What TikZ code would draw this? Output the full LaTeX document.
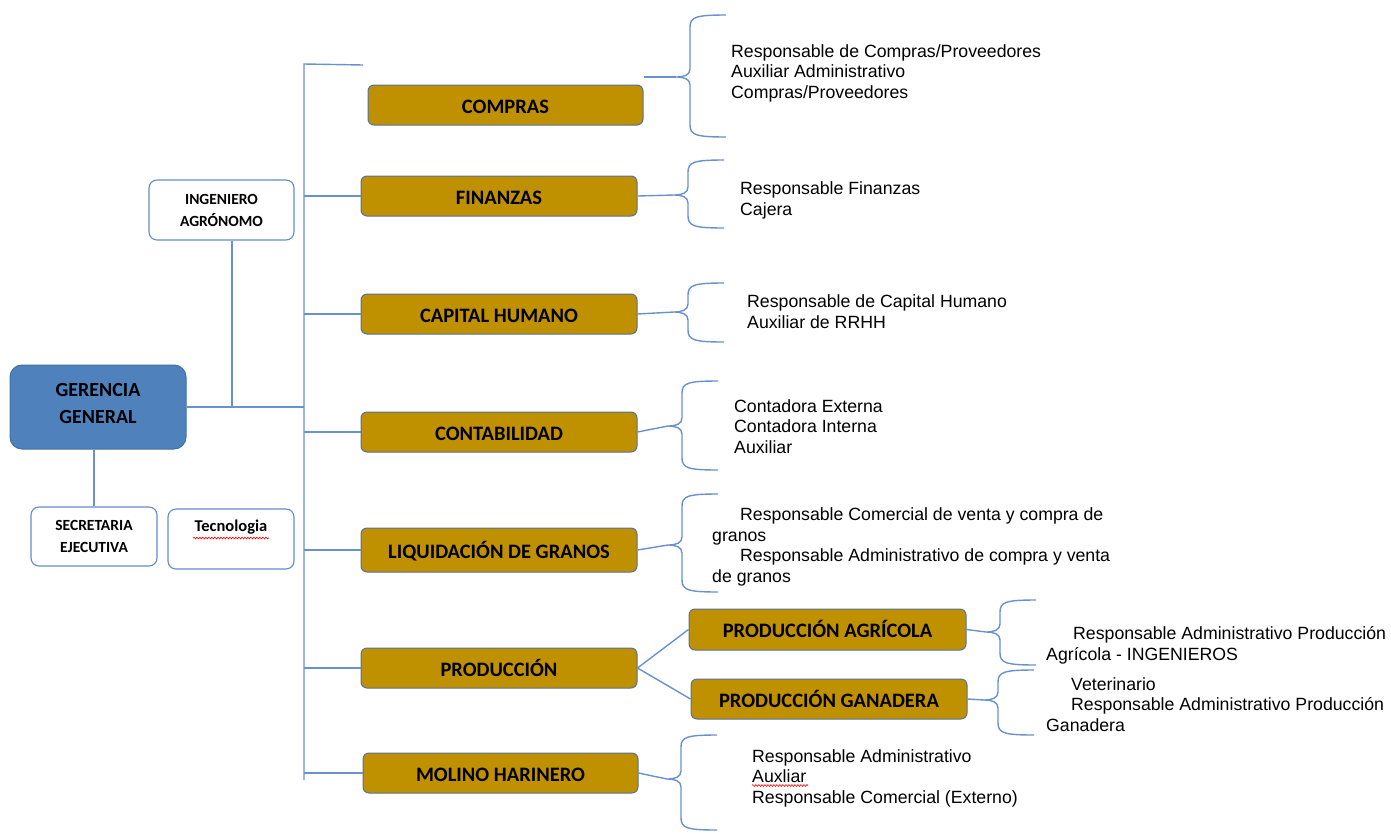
\documentclass[tikz,border=0pt]{standalone}
\usepackage{fontspec}
\usetikzlibrary{decorations.pathmorphing}
\setmainfont{Liberation Sans}
\newfontfamily\labfont{Carlito}
\definecolor{connc}{RGB}{104,146,206}
\definecolor{gold}{RGB}{191,144,0}
\definecolor{goldedge}{RGB}{84,114,156}
\definecolor{gerfill}{RGB}{79,129,189}
\definecolor{geredge}{RGB}{65,113,156}
\definecolor{wedge}{RGB}{100,140,200}
\newcommand\bracedraw[5]{%
 \draw[conn] ({#1+36},#2) .. controls ({#1+6},#2) and (#1,{#2+2}) .. (#1,{#2+12}) -- (#1,{#3-8})
   .. controls (#1,{#3-2}) and ({#1-6},#3) .. ({#1-14},#3)
   .. controls ({#1-6},#3) and (#1,{#3+2}) .. (#1,{#3+8}) -- (#1,{#4-12})
   .. controls (#1,{#4-2}) and ({#1+6},#4) .. ({#1+36},#4);
 \coordinate (#5) at ({#1-14},#3);}
\tikzset{
 conn/.style={draw=connc, line width=1.4pt},
 wavy/.style={draw=red, line width=0.6pt, decorate, decoration={snake, amplitude=0.9pt, segment length=3pt}},
 dept/.style={draw=goldedge, fill=gold, rounded corners=6pt, line width=1pt,
   minimum width=276pt, minimum height=40pt, inner sep=0pt,
   text height=16pt, text depth=0pt,
   font=\labfont\bfseries\fontsize{20.5}{22}\selectfont},
 wbox/.style={draw=wedge, fill=white, rounded corners=8pt, line width=1.1pt,
   minimum width=126pt, minimum height=60pt, inner sep=0pt, align=center,
   font=\labfont\bfseries\fontsize{15.5}{22}\selectfont},
 list/.style={anchor=base west, inner sep=0pt, align=left,
   font=\fontsize{17.7}{20.5}\selectfont}
}
\begin{document}
\begin{tikzpicture}[x=1pt,y=-1pt]
\useasboundingbox (0,0) rectangle (1391,833);
% left part
\node[draw=geredge, fill=gerfill, rounded corners=12pt, line width=1pt,
  minimum width=176pt, minimum height=84pt, inner sep=0pt, align=center, text depth=8pt,
  font=\labfont\bfseries\fontsize{20}{27}\selectfont] (ger) at (98,407) {GERENCIA\\GENERAL};
\node[wbox, minimum width=145pt] (ing) at (221.5,210) {INGENIERO\\AGRÓNOMO};
\node[wbox, minimum height=59pt] (sec) at (94,536.5) {SECRETARIA\\EJECUTIVA};
\node[wbox, font=\labfont\bfseries\fontsize{16.5}{18}\selectfont] (tec) at (231,539) {Tecnologia\\[8pt]};
% departments
\node[dept, minimum width=275pt] (compras) at (505.5,105) {COMPRAS};
\node[dept] (fin) at (499,196) {FINANZAS};
\node[dept] (cap) at (499,314) {CAPITAL HUMANO};
\node[dept] (cont) at (499,432) {CONTABILIDAD};
\node[dept, minimum height=44pt] (liq) at (499,550) {LIQUIDACIÓN DE GRANOS};
\node[dept] (prod) at (499,668) {PRODUCCIÓN};
\node[dept, minimum width=275pt] (mol) at (500.5,773) {MOLINO HARINERO};
\node[dept, minimum width=277pt, minimum height=41pt] (pa) at (827.5,629.5) {PRODUCCIÓN AGRÍCOLA};
\node[dept] (pg) at (829,699) {PRODUCCIÓN GANADERA};
% trunk
\coordinate (ttop) at (304,64);
\coordinate (tbot) at (304,780);
\coordinate (topend) at (363,65);
\draw[conn] (topend) -- (ttop) -- (tbot);
\draw[conn] (ger.east) -- (ger.east -| ttop);
\draw[conn] ([xshift=10.5pt]ing.south) -- ([xshift=10.5pt]ing.south |- ger.east);
\draw[conn] (ger.south -| sec.north) -- (sec.north);
\foreach \n in {fin,cap,cont,liq,prod,mol}{\draw[conn] (\n.west -| ttop) -- (\n.west);}
\draw[conn] (prod.east) -- (pa.west);
\draw[conn] (prod.east) -- (pg.west);
% braces
\bracedraw{690}{15}{77}{137}{bcompras}
\draw[conn] (bcompras) -- (bcompras -| compras.east);
\bracedraw{688}{160}{195}{228}{bfin}
\draw[conn] (fin.east) -- (bfin);
\bracedraw{688}{283}{312}{342}{bcap}
\draw[conn] (cap.east) -- (bcap);
\bracedraw{682}{381}{426}{470}{bcont}
\draw[conn] (cont.east) -- (bcont);
\bracedraw{682}{494}{545}{592}{bliq}
\draw[conn] (liq.east) -- (bliq);
\bracedraw{1000}{600}{632}{665}{bpa}
\draw[conn] (pa.east) -- (bpa);
\bracedraw{998}{670}{700}{735}{bpg}
\draw[conn] (pg.east) -- (bpg);
\bracedraw{681}{735}{779}{830}{bmol}
\draw[conn] (mol.east) -- (bmol);
% lists (anchored at the baseline of their last line)
\node[list] (lcompras) at (731,98) {Responsable de Compras/Proveedores\\Auxiliar Administrativo\\Compras/Proveedores};
\node[list] (lfin) at (740,215) {Responsable Finanzas\\Cajera};
\node[list] (lcap) at (747,328) {Responsable de Capital Humano\\Auxiliar de RRHH};
\node[list] (lcont) at (734,453) {Contadora Externa\\Contadora Interna\\Auxiliar};
\node[list] (lliq) at (712,582) {\hspace*{28pt}Responsable Comercial de venta y compra de\\granos\\\hspace*{28pt}Responsable Administrativo de compra y venta\\de granos};
\node[list] (lpa) at (1046,660) {\hspace*{27pt}Responsable Administrativo Producción\\Agrícola - INGENIEROS};
\node[list] (lpg) at (1046,731) {\hspace*{25pt}Veterinario\\\hspace*{25pt}Responsable Administrativo Producción\\Ganadera};
\node[list] (lmol) at (752,803) {Responsable Administrativo\\Auxliar\\Responsable Comercial (Externo)};
% spelling marks
\draw[wavy] ([shift={(-38,-1)}]tec.center) -- ([shift={(38,-1)}]tec.center);
\draw[wavy] ([shift={(0,-17.5)}]lmol.base west) -- ([shift={(56,-17.5)}]lmol.base west);
\end{tikzpicture}
\end{document}
